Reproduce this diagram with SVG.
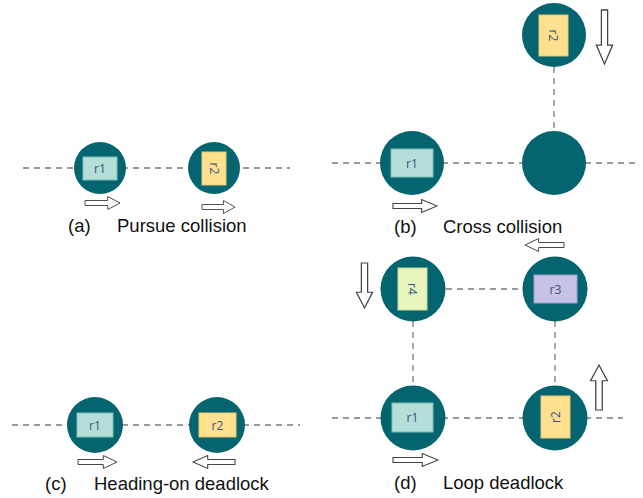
<svg xmlns="http://www.w3.org/2000/svg" width="643" height="498" viewBox="0 0 643 498">
<style>
.bg{fill:#ffffff}
.track{stroke:#7a7a7a;stroke-width:1.3;stroke-dasharray:6,5;fill:none}
.robot{fill:#046571}
.lbl{font-family:"Open Sans","Liberation Sans",sans-serif;font-size:12px;fill:#34547a;text-anchor:middle;dominant-baseline:central}
.r1{fill:#b4ded7;stroke:#7fbfb5;stroke-width:1}
.r2{fill:#fee08f;stroke:#e8c870;stroke-width:1}
.r3{fill:#c6c2e6;stroke:#a29ed0;stroke-width:1}
.r4{fill:#e8f6bd;stroke:#c8dc98;stroke-width:1}
.arr{fill:#ffffff;stroke:#444444;stroke-width:1}
.cap{font-family:"Liberation Sans",Arial,sans-serif;font-size:18.5px;fill:#111111}
</style>
<defs>
<path id="arrow" d="M-20,-2.5 H6 V-6.5 L20,0 L6,6.5 V2.5 H-20 Z"/>
</defs>
<rect class="bg" x="0" y="0" width="643" height="498"/>

<g id="connectors">
<line class="track" x1="23" y1="168" x2="290" y2="168"/>
<line class="track" x1="332" y1="163" x2="635" y2="163"/>
<line class="track" x1="554" y1="67" x2="554" y2="131"/>
<line class="track" x1="12" y1="425" x2="300" y2="425"/>
<line class="track" x1="332" y1="418" x2="623" y2="418"/>
<line class="track" x1="446" y1="289" x2="523" y2="289"/>
<line class="track" x1="413" y1="321" x2="413" y2="386"/>
<line class="track" x1="555" y1="321" x2="555" y2="386"/>
</g>

<!-- (a) -->
<g id="a-r1">
<circle class="robot" cx="100" cy="168" r="26"/>
<rect class="r1" x="83" y="157" width="34" height="23"/>
<text class="lbl" x="100" y="168.5">r1</text>
</g>
<g id="a-r2">
<circle class="robot" cx="214" cy="168" r="26"/>
<rect class="r2" x="202" y="152" width="24" height="33"/>
<text class="lbl" x="214" y="168.5" transform="rotate(90 214 168.5)">r2</text>
</g>
<g id="a-arrows">
<use href="#arrow" class="arr" transform="translate(102.5,203) scale(0.875,1)"/>
<use href="#arrow" class="arr" transform="translate(218.5,207) scale(0.825,1)"/>
</g>
<g id="a-caption">
<text class="cap" x="68" y="232">(a)</text>
<text class="cap" x="117" y="232">Pursue collision</text>
</g>

<!-- (b) -->
<g id="b-r1">
<circle class="robot" cx="412" cy="163" r="32"/>
<rect class="r1" x="391" y="149" width="42" height="28"/>
<text class="lbl" x="412" y="163.5">r1</text>
</g>
<g id="b-cross">
<circle class="robot" cx="554" cy="163" r="32"/>
</g>
<g id="b-r2">
<circle class="robot" cx="554" cy="35" r="32"/>
<rect class="r2" x="539" y="15" width="29" height="41"/>
<text class="lbl" x="553.5" y="35.5" transform="rotate(90 553.5 35.5)">r2</text>
</g>
<g id="b-arrows">
<use href="#arrow" class="arr" transform="translate(415,206) scale(1.1,1)"/>
<use href="#arrow" class="arr" transform="translate(604.5,37) rotate(90) scale(1.35,1.25)"/>
</g>
<g id="b-caption">
<text class="cap" x="394" y="233">(b)</text>
<text class="cap" x="443" y="233">Cross collision</text>
</g>

<!-- (c) -->
<g id="c-r1">
<circle class="robot" cx="95" cy="425" r="28"/>
<rect class="r1" x="77" y="413" width="36" height="24"/>
<text class="lbl" x="95" y="425.5">r1</text>
</g>
<g id="c-r2">
<circle class="robot" cx="217" cy="425" r="28"/>
<rect class="r2" x="199" y="413" width="37" height="24"/>
<text class="lbl" x="217.5" y="425.5">r2</text>
</g>
<g id="c-arrows">
<use href="#arrow" class="arr" transform="translate(97.5,462) scale(0.975,1)"/>
<use href="#arrow" class="arr" transform="translate(214,462) rotate(180) scale(1.05,1)"/>
</g>
<g id="c-caption">
<text class="cap" x="45" y="490">(c)</text>
<text class="cap" x="94" y="490">Heading-on deadlock</text>
</g>

<!-- (d) -->
<g id="d-r4">
<circle class="robot" cx="413" cy="289" r="32.5"/>
<rect class="r4" x="398" y="268" width="29" height="42"/>
<text class="lbl" x="412.5" y="289" transform="rotate(90 412.5 289)">r4</text>
</g>
<g id="d-r3">
<circle class="robot" cx="555" cy="289" r="32.5"/>
<rect class="r3" x="534" y="275" width="43" height="28"/>
<text class="lbl" x="555.5" y="289.5">r3</text>
</g>
<g id="d-r1">
<circle class="robot" cx="413" cy="418" r="32.5"/>
<rect class="r1" x="392" y="403" width="41" height="29"/>
<text class="lbl" x="412.5" y="417.5">r1</text>
</g>
<g id="d-r2">
<circle class="robot" cx="555" cy="418" r="32.5"/>
<rect class="r2" x="541" y="396" width="29" height="42"/>
<text class="lbl" x="555.5" y="417" transform="rotate(-90 555.5 417)">r2</text>
</g>
<g id="d-arrows">
<use href="#arrow" class="arr" transform="translate(364.5,285.5) rotate(90) scale(1.125,1.25)"/>
<use href="#arrow" class="arr" transform="translate(544.5,245) rotate(180) scale(0.975,1)"/>
<use href="#arrow" class="arr" transform="translate(599,387.5) rotate(-90) scale(1.125,1.3)"/>
<use href="#arrow" class="arr" transform="translate(415.5,460) scale(1.125,1)"/>
</g>
<g id="d-caption">
<text class="cap" x="394" y="489">(d)</text>
<text class="cap" x="443" y="489">Loop deadlock</text>
</g>
</svg>
